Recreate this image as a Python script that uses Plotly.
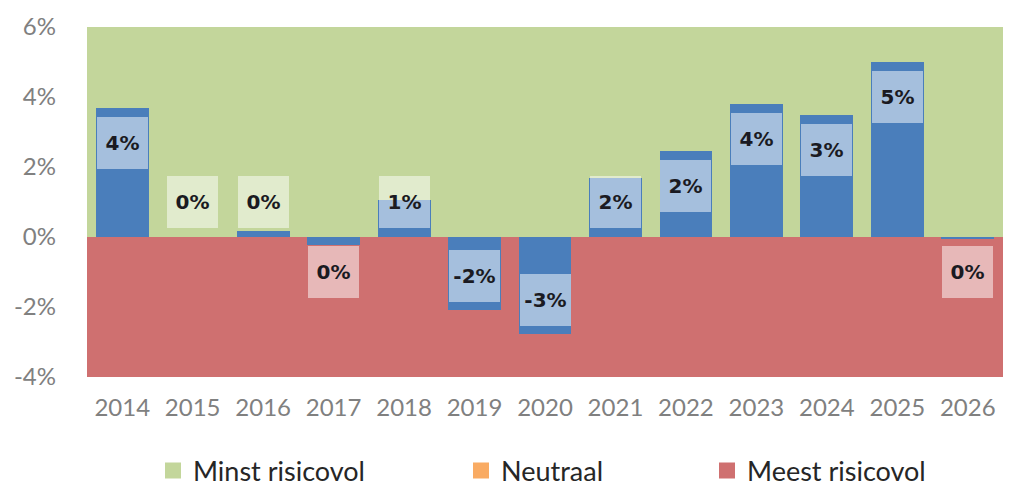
import plotly.graph_objects as go

years = ["2014", "2015", "2016", "2017", "2018", "2019", "2020",
         "2021", "2022", "2023", "2024", "2025", "2026"]
returns = [3.69, 0.0, 0.18, -0.24, 1.06, -2.09, -2.77,
           1.69, 2.47, 3.80, 3.48, 5.00, -0.04]
zone_low_risk = [6] * len(years)      # Minst risicovol
zone_neutral = [0] * len(years)       # Neutraal
zone_high_risk = [-4] * len(years)    # Meest risicovol
y_ticks = [-4, -2, 0, 2, 4, 6]

GREEN = "#c3d69b"
ORANGE = "#f9ab63"
RED = "#cf7070"
BLUE = "#4a7ebb"
TICK_FONT = dict(family="Lato, Open Sans, sans-serif", size=24, color="#808080")
LEG_FONT = dict(family="Lato, Open Sans, sans-serif", size=27, color="#262626")

fig = go.Figure()
zones = [("Minst risicovol", zone_low_risk, GREEN, "legend"),
         ("Neutraal", zone_neutral, ORANGE, "legend2"),
         ("Meest risicovol", zone_high_risk, RED, "legend3")]
for name, vals, col, leg in zones:
    fig.add_trace(go.Bar(x=years, y=vals, name=name, width=1, showlegend=False,
                         marker=dict(color=col, line=dict(width=0)), hoverinfo="skip"))
for name, vals, col, leg in zones:
    # legend entry (square swatch)
    fig.add_trace(go.Scatter(x=[None], y=[None], mode="markers", name=name, legend=leg,
                             marker=dict(symbol="square", size=17, color=col)))

fig.add_trace(go.Bar(x=years, y=returns, name="Rendement", width=0.75,
                     marker=dict(color=BLUE, line=dict(width=0)), showlegend=False))

for i, v in enumerate(returns):
    label = f"{int(round(v))}%"
    if v >= 0:
        ly = max(v - 1.0, 1.0)
    else:
        ly = min(v + 0.97, -1.0)
    fig.add_annotation(x=i, y=ly, xref="x", yref="y", text=f"<b>{label}</b>",
                       showarrow=False, width=51, height=52,
                       bgcolor="rgba(255,255,255,0.5)", borderpad=0, borderwidth=0,
                       font=dict(family="DejaVu Sans", size=20, color="#1a1a22"))

# page body has an 8px default margin: the figure sits at (8, 8)
leg_common = dict(orientation="h", xref="container", yref="container",
                  y=1 - (471 - 8) / 480, xanchor="left", yanchor="middle",
                  font=LEG_FONT, bgcolor="rgba(0,0,0,0)")
fig.update_layout(
    width=1006, height=480,
    margin=dict(l=79, r=11, t=19, b=111),
    barmode="overlay", bargap=0,
    plot_bgcolor="white", paper_bgcolor="white",
    legend=dict(x=(153 - 8) / 1006, **leg_common),
    legend2=dict(x=(461 - 8) / 1006, **leg_common),
    legend3=dict(x=(707 - 8) / 1006, **leg_common),
    xaxis=dict(type="category", range=[-0.5, 12.5], showgrid=False, zeroline=False,
               showline=False, ticks="", tickfont=TICK_FONT, ticklabelstandoff=14,
               automargin=False),
    yaxis=dict(range=[-4, 6], tickvals=y_ticks, ticktext=[f"{t}%" for t in y_ticks],
               showgrid=False, zeroline=False, showline=False, ticks="",
               tickfont=TICK_FONT, ticklabelstandoff=30, automargin=False),
)

fig.write_html("out.html")
